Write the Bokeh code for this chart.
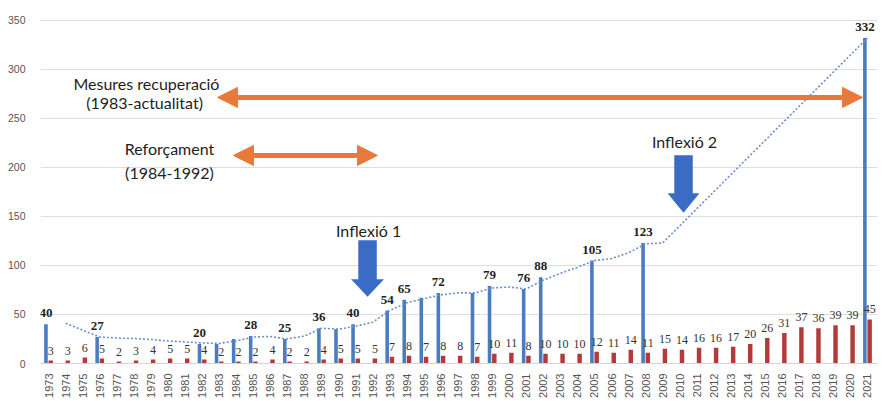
from math import pi
from bokeh.plotting import figure
from bokeh.models import (ColumnDataSource, LabelSet, Label, Arrow, NormalHead,
                          FixedTicker, Range1d)
from bokeh.embed import file_html
from bokeh.resources import INLINE

# ---------------- data ----------------
years = list(range(1973, 2022))
red_values = [3, 3, 6, 5, 2, 3, 4, 5, 5, 4,
              2, 2, 2, 4, 2, 2, 4, 5, 5, 5,
              7, 8, 7, 8, 8, 7, 10, 11, 8, 10,
              10, 10, 12, 11, 14, 11, 15, 14, 16, 16,
              17, 20, 26, 31, 37, 36, 39, 39, 45]

blue_years = [1973, 1976, 1982, 1983, 1984, 1985, 1987, 1989, 1990, 1991, 1993,
              1994, 1995, 1996, 1998, 1999, 2001, 2002, 2005, 2008, 2021]
blue_values = [40, 27, 20, 20, 25, 28, 25, 36, 35, 40, 54,
               65, 67, 72, 72, 79, 76, 88, 105, 123, 332]
blue_labels = ["40", "27", "20", "", "", "28", "25", "36", "", "40", "54",
               "65", "", "72", "", "79", "76", "88", "105", "123", "332"]

trend_years = list(range(1974, 2010)) + [2021]
trend_values = [41, 34, 27, 26, 25.5, 24.5, 23, 22, 21, 20.5,
                23, 27, 27.5, 25, 28, 36, 35, 38, 42, 54,
                62, 66, 70, 72, 72, 77, 78, 76, 85, 92,
                98, 105, 107, 113, 122, 123, 332]

y_ticks = [0, 50, 100, 150, 200, 250, 300, 350]

# ---------------- layout constants ----------------
X0, X1 = 1972.53, 2021.59
Y0, Y1 = 0, 360
FRAME_W, FRAME_H = 837, 353
PX_PER_YEAR = FRAME_W / (X1 - X0)
PX_PER_UNIT = FRAME_H / (Y1 - Y0)
BLUE_OFF, RED_OFF = -0.15, 0.13

BLUE = "#4a7cc0"
RED = "#b23a3a"
ORANGE = "#e8793a"
ARROW_BLUE = "#3a6cc6"
NUM_FONT = "Liberation Sans"
BOLD_FONT = "Roboto"
ANN_FONT = "Lato"

p = figure(frame_width=FRAME_W, frame_height=FRAME_H,
           x_range=Range1d(X0, X1), y_range=Range1d(Y0, Y1),
           output_backend="svg", toolbar_location=None,
           min_border_left=40, min_border_top=10, min_border_right=8,
           min_border_bottom=0)
p.outline_line_color = None
p.background_fill_color = "white"
p.border_fill_color = "white"

# bars
p.vbar(x=[y + RED_OFF for y in years], top=red_values, width=0.26,
       color=RED, line_color=None)
p.vbar(x=[y + BLUE_OFF for y in blue_years], top=blue_values, width=0.21,
       color=BLUE, line_color=None)

# trend line
p.line(trend_years, trend_values, line_color="#6a90c8", line_width=1.6,
       line_dash="2 2")

# value labels
red_src = ColumnDataSource(dict(x=[y + RED_OFF for y in years], y=red_values,
                                t=[str(v) for v in red_values]))
p.add_layout(LabelSet(x="x", y="y", text="t", source=red_src, y_offset=10,
                      text_align="center", text_baseline="middle",
                      text_font=NUM_FONT, text_font_size="12px",
                      text_color="#333333"))
blue_src = ColumnDataSource(dict(x=[y + BLUE_OFF for y in blue_years],
                                 y=blue_values, t=blue_labels))
p.add_layout(LabelSet(x="x", y="y", text="t", source=blue_src, y_offset=11,
                      text_align="center", text_baseline="middle",
                      text_font=BOLD_FONT, text_font_size="13px",
                      text_font_style="bold", text_color="#222222"))

# axes
p.xaxis.ticker = FixedTicker(ticks=years)
p.xaxis.major_label_orientation = pi / 2
p.xaxis.major_label_text_font = NUM_FONT
p.xaxis.major_label_text_font_size = "11px"
p.xaxis.major_label_text_color = "#555555"
p.xaxis.major_label_standoff = 4
p.xaxis.major_tick_line_color = None
p.xaxis.minor_tick_line_color = None
p.xaxis.axis_line_color = "#d4d4d4"

p.yaxis.ticker = FixedTicker(ticks=y_ticks)
p.yaxis.major_label_text_font = NUM_FONT
p.yaxis.major_label_text_font_size = "10.5px"
p.yaxis.major_label_text_color = "#555555"
p.yaxis.major_label_standoff = 9
p.yaxis.major_tick_line_color = None
p.yaxis.minor_tick_line_color = None
p.yaxis.axis_line_color = None

p.xgrid.grid_line_color = None
p.ygrid.ticker = FixedTicker(ticks=y_ticks)
p.ygrid.grid_line_color = "#dedede"

# orange double arrows
def double_arrow(x_a, x_b, y):
    return Arrow(x_start=x_a, y_start=y, x_end=x_b, y_end=y,
                 line_color=ORANGE, line_width=5,
                 start=NormalHead(size=20, fill_color=ORANGE, line_color=ORANGE),
                 end=NormalHead(size=20, fill_color=ORANGE, line_color=ORANGE))

p.add_layout(double_arrow(1982.91, 2020.71, 271.4))
p.add_layout(double_arrow(1983.84, 1992.28, 212.2))

# blue block arrows
def block_arrow(xc, y_top, y_tip, shaft_px, head_px, head_len_px):
    ds = shaft_px / 2 / PX_PER_YEAR
    dh = head_px / 2 / PX_PER_YEAR
    y_base = y_tip + head_len_px / PX_PER_UNIT
    xs = [xc - ds, xc + ds, xc + ds, xc + dh, xc, xc - dh, xc - ds]
    ys = [y_top, y_top, y_base, y_base, y_tip, y_base, y_base]
    return xs, ys

for args in [(1991.70, 125.5, 68.4, 18, 32, 17), (2010.22, 212.2, 154.1, 18, 31, 19)]:
    xs, ys = block_arrow(*args)
    p.patch(xs, ys, fill_color=ARROW_BLUE, line_color=ARROW_BLUE, line_width=0.5)

# annotation texts
def ann(text, x, y):
    p.add_layout(Label(x=x, y=y, text=text, text_align="center",
                       text_baseline="middle", text_font=ANN_FONT,
                       text_font_size="16px", text_color="#1e1e1e"))

ann("Mesures recuperació", 1978.74, 285.7)
ann("(1983-actualitat)", 1978.63, 266.3)
ann("Reforçament", 1980.09, 219.4)
ann("(1984-1992)", 1980.09, 194.9)
ann("Inflexió 1", 1991.76, 135.7)
ann("Inflexió 2", 2010.28, 226.5)

open("out.html", "w").write(file_html(p, INLINE))
